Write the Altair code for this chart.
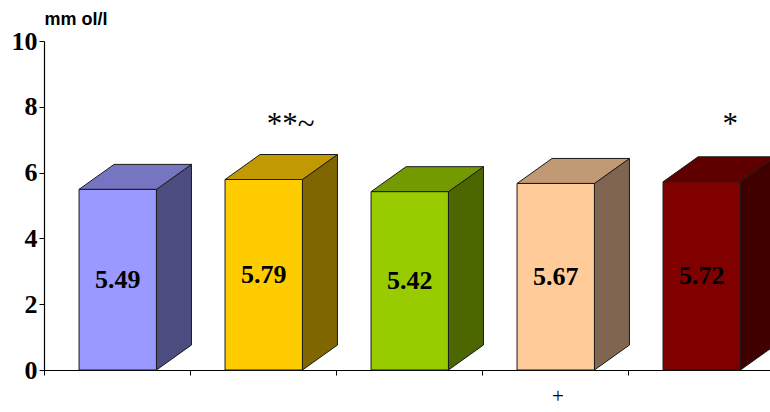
import altair as alt
import pandas as pd

# ---- data ----
groups = ["G1", "G2", "G3", "G4", "G5"]
values = [5.49, 5.79, 5.42, 5.67, 5.72]
value_labels = ["5.49", "5.79", "5.42", "5.67", "5.72"]
front_colors = ["#9999FF", "#FFCC00", "#99CC00", "#FFCC99", "#800000"]
top_colors = ["#7575C2", "#C09A00", "#739A00", "#C09A74", "#5E0000"]
side_colors = ["#4C4C80", "#806600", "#4C6600", "#806650", "#400000"]

annot_text = ["**~", "*", "+"]
annot_x = [1.69, 4.70, 3.52]
annot_y = [7.45, 7.45, -0.82]
annot_size = [31, 31, 21]

# ---- 3D geometry (in scale units) ----
LEFT, RIGHT = 0.24, 0.77      # front face within category
DX, DY = 0.24, 0.76           # depth offset

W, H = 726, 329
xs = alt.Scale(domain=[0, 4.9726], nice=False, zero=False)
ys = alt.Scale(domain=[0, 10], nice=False)

front = pd.DataFrame({
    "g": groups,
    "xl": [i + LEFT for i in range(5)],
    "xr": [i + RIGHT for i in range(5)],
    "xm": [i + (LEFT + RIGHT) / 2 for i in range(5)],
    "v": values,
    "vm": [v / 2 for v in values],
    "lab": value_labels,
})

side_rows, top_rows = [], []
for i, (g, v) in enumerate(zip(groups, values)):
    xr = i + RIGHT
    xl = i + LEFT
    side_rows.append({"g": g, "x": xr, "y": v, "y2": 0})
    side_rows.append({"g": g, "x": xr + DX, "y": v + DY, "y2": DY})
    top_rows.append({"g": g, "y": v, "x": xl, "x2": xr})
    top_rows.append({"g": g, "y": v + DY, "x": xl + DX, "x2": xr + DX})
side = pd.DataFrame(side_rows)
top = pd.DataFrame(top_rows)
annot = pd.DataFrame({"t": annot_text, "x": annot_x, "y": annot_y, "s": annot_size})

STROKE = "#1a1a1a"

x_axis = alt.Axis(values=[0, 1, 2, 3, 4], labels=False, title=None, grid=False,
                  tickSize=5, tickColor="black", domainColor="black", domainWidth=1.2)
y_axis = alt.Axis(values=[0, 2, 4, 6, 8, 10], grid=False, tickSize=5, tickColor="black",
                  domainColor="black", domainWidth=1.2,
                  labelFont="Liberation Serif", labelFontWeight="bold", labelFontSize=26,
                  labelColor="black", labelPadding=2,
                  title="mm ol/l", titleAngle=0, titleX=0, titleY=-17, titleAlign="left",
                  titleBaseline="alphabetic", titleFont="Liberation Sans",
                  titleFontWeight="bold", titleFontSize=18, titleColor="black")

sides = alt.Chart(side).mark_area(stroke=STROKE, strokeWidth=1, opacity=1).encode(
    x=alt.X("x:Q", scale=xs, axis=x_axis),
    y=alt.Y("y:Q", scale=ys, axis=y_axis),
    y2="y2:Q",
    fill=alt.Fill("g:N", scale=alt.Scale(domain=groups, range=side_colors), legend=None),
    detail="g:N",
)

tops = alt.Chart(top).mark_area(orient="horizontal", stroke=STROKE, strokeWidth=1, opacity=1).encode(
    y=alt.Y("y:Q", scale=ys),
    x=alt.X("x:Q", scale=xs),
    x2="x2:Q",
    fill=alt.Fill("g:N", scale=alt.Scale(domain=groups, range=top_colors), legend=None),
    detail="g:N",
)

fronts = alt.Chart(front).mark_rect(stroke=STROKE, strokeWidth=1).encode(
    x=alt.X("xl:Q", scale=xs),
    x2="xr:Q",
    y=alt.Y("v:Q", scale=ys),
    y2=alt.datum(0),
    fill=alt.Fill("g:N", scale=alt.Scale(domain=groups, range=front_colors), legend=None),
)

labels = alt.Chart(front).mark_text(font="Liberation Serif", fontWeight="bold", fontSize=26,
                                    color="black", baseline="middle", align="center").encode(
    x=alt.X("xm:Q", scale=xs),
    y=alt.Y("vm:Q", scale=ys),
    text="lab:N",
)

ann = alt.Chart(annot).mark_text(font="Liberation Serif", color="black", baseline="middle",
                                 align="center", clip=False).encode(
    x=alt.X("x:Q", scale=xs),
    y=alt.Y("y:Q", scale=ys),
    text="t:N",
    size=alt.Size("s:Q", scale=None, legend=None),
)

chart = alt.layer(sides, tops, fronts, labels, ann).resolve_scale(fill="independent").properties(
    width=W, height=H,
    background="white",
    autosize=alt.AutoSizeParams(type="none"),
    padding={"left": 44, "top": 41, "right": 0, "bottom": 42},
).configure_view(stroke="transparent", strokeWidth=0)

chart.save("out.html", embed_options={"renderer": "svg", "actions": False})
